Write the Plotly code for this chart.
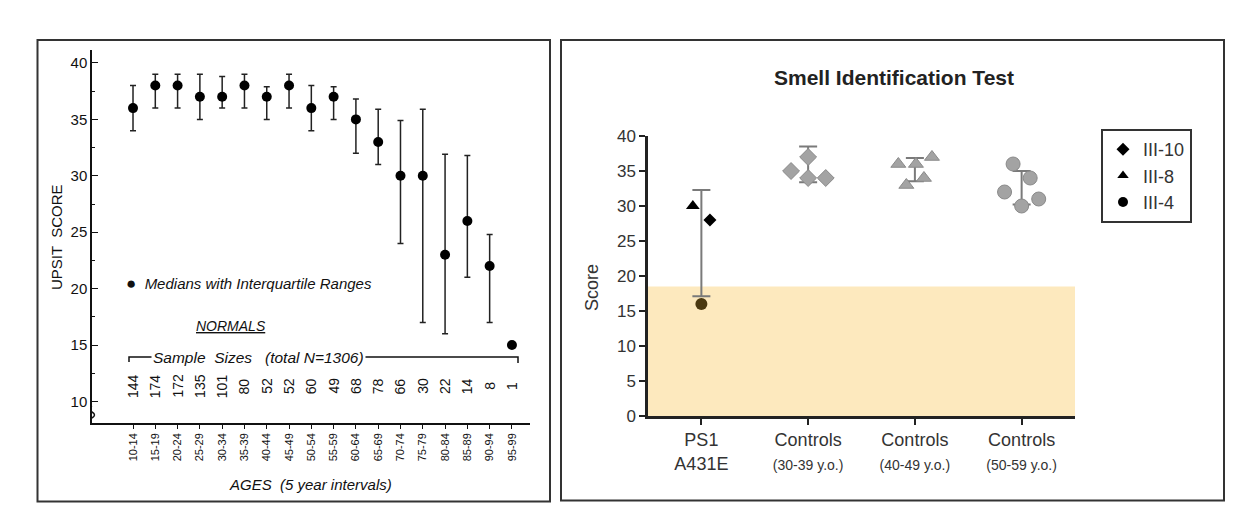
import plotly.graph_objects as go

W, H = 1241, 525
def px(x): return x / W
def py(y): return 1 - y / H

# ---------------- Left panel data (UPSIT norms) ----------------
age_groups = ["10-14", "15-19", "20-24", "25-29", "30-34", "35-39", "40-44", "45-49",
              "50-54", "55-59", "60-64", "65-69", "70-74", "75-79", "80-84", "85-89",
              "90-94", "95-99"]
medians = [36, 38, 38, 37, 37, 38, 37, 38, 36, 37, 35, 33, 30, 30, 23, 26, 22, 15]
q_low = [34, 36, 36, 35, 36, 36, 35, 36, 34, 35, 32, 31, 24, 17, 16, 21, 17, None]
q_high = [38, 39, 39, 39, 38.8, 39, 37.9, 39, 38, 37.9, 36.8, 35.9, 34.9, 35.9, 31.9, 31.8, 24.8, None]
sample_sizes = ["144", "174", "172", "135", "101", "80", "52", "52", "60", "49", "68",
                "78", "66", "30", "22", "14", "8", "1"]

# ---------------- Right panel data (Smell Identification Test) ----------------
groups = ["PS1<br>A431E",
          "Controls<br><span style='font-size:14px'>(30-39 y.o.)</span>",
          "Controls<br><span style='font-size:14px'>(40-49 y.o.)</span>",
          "Controls<br><span style='font-size:14px'>(50-59 y.o.)</span>"]
group_mean = [24.7, 35.95, 35.2, 32.6]
group_sd = [7.6, 2.55, 1.65, 2.4]

ps1_names = ["III-10", "III-8", "III-4"]
ps1_x = [0.08, -0.08, 0.0]
ps1_y = [28, 30, 16]

c30_x = [0.84, 1.0, 1.0, 1.165]
c30_y = [35, 37, 34, 34]
c40_x = [1.845, 2.01, 2.16, 1.92, 2.085]
c40_y = [36, 36, 37, 33, 34]
c50_x = [2.92, 3.08, 2.84, 3.0, 3.16]
c50_y = [36, 34, 32, 30, 31]

fig = go.Figure()

# ---------- left panel traces ----------
xi = list(range(len(age_groups)))
err_plus = [None if h is None else h - m for h, m in zip(q_high, medians)]
err_minus = [None if l is None else m - l for l, m in zip(q_low, medians)]
fig.add_trace(go.Scatter(
    x=xi, y=medians, mode="markers", xaxis="x", yaxis="y", showlegend=False,
    marker=dict(color="black", size=10),
    error_y=dict(type="data", symmetric=False, array=err_plus, arrayminus=err_minus,
                 color="#222", thickness=1.5, width=3),
))

# ---------- right panel traces ----------
fig.add_trace(go.Scatter(
    x=[0, 1, 2, 3], y=group_mean, mode="markers", xaxis="x2", yaxis="y2", showlegend=False,
    marker=dict(size=1, color="rgba(0,0,0,0)"),
    error_y=dict(type="data", array=group_sd, color="#7a7a7a", thickness=2, width=9),
))
gray = "#a3a3a3"
fig.add_trace(go.Scatter(x=c30_x, y=c30_y, mode="markers", xaxis="x2", yaxis="y2", showlegend=False,
                         marker=dict(symbol="diamond", size=13, color=gray, line=dict(color="#8a8a8a", width=1))))
fig.add_trace(go.Scatter(x=c40_x, y=c40_y, mode="markers", xaxis="x2", yaxis="y2", showlegend=False,
                         marker=dict(symbol="triangle-up", size=13, color=gray, line=dict(color="#8a8a8a", width=1))))
fig.add_trace(go.Scatter(x=c50_x, y=c50_y, mode="markers", xaxis="x2", yaxis="y2", showlegend=False,
                         marker=dict(symbol="circle", size=14, color=gray, line=dict(color="#8a8a8a", width=1))))
ps1_symbols = ["diamond", "triangle-up", "circle"]
ps1_sizes = [10, 12, 12]
ps1_colors = ["black", "black", "#4a3810"]
for n, xv, yv, s, sz, c in zip(ps1_names, ps1_x, ps1_y, ps1_symbols, ps1_sizes, ps1_colors):
    fig.add_trace(go.Scatter(x=[xv], y=[yv], mode="markers", xaxis="x2", yaxis="y2", name=n,
                             showlegend=False, marker=dict(symbol=s, size=sz, color=c)))
# legend entries (black symbols, as in the key)
for n, s in zip(ps1_names, ps1_symbols):
    fig.add_trace(go.Scatter(x=[None], y=[None], mode="markers", xaxis="x2", yaxis="y2", name=n,
                             marker=dict(symbol=s, size=10, color="black")))

# ---------- axes ----------
L_x0, L_x1 = 92, 530
L_y0, L_y1 = 50, 423
L_xr = [-1.84, 17.81]
L_yr = [8.09, 41.15]

def lx(p):  # pixel -> left data x
    return L_xr[0] + (p - L_x0) / (L_x1 - L_x0) * (L_xr[1] - L_xr[0])
def ly(p):  # pixel -> left data y
    return L_yr[1] - (p - L_y0) / (L_y1 - L_y0) * (L_yr[1] - L_yr[0])

lfont = dict(family="Liberation Sans, Arial", color="#111")
rfont = dict(family="Liberation Sans, Arial", color="#333")

fig.update_layout(
    width=W, height=H, margin=dict(l=0, r=0, t=0, b=0, autoexpand=False), autosize=False,
    paper_bgcolor="white", plot_bgcolor="rgba(0,0,0,0)",
    xaxis=dict(domain=[px(L_x0), px(L_x1)], range=L_xr, tickmode="array", tickvals=xi,
               ticktext=age_groups, tickangle=-90, showline=True, linecolor="#111", linewidth=1.5,
               ticks="outside", ticklen=4, tickcolor="#111", showgrid=False, zeroline=False,
               tickfont=dict(size=11, **lfont), anchor="y", automargin=False),
    yaxis=dict(domain=[py(L_y1), py(L_y0)], range=L_yr, tickvals=[10, 15, 20, 25, 30, 35, 40],
               showline=True, linecolor="#111", linewidth=1.5, ticks="inside", ticklen=6,
               tickcolor="#111", showgrid=False, zeroline=False,
               minor=dict(tickvals=[12.5, 17.5, 22.5, 27.5, 32.5, 37.5], ticks="inside", ticklen=3, tickcolor="#111"),
               tickfont=dict(size=15, **lfont), anchor="x", automargin=False),
    xaxis2=dict(domain=[px(648), px(1075)], range=[-0.5, 3.5], tickmode="array", tickvals=[0, 1, 2, 3],
                ticktext=groups, showline=True, linecolor="#222", linewidth=2.5, ticks="outside",
                ticklen=6, tickwidth=2, tickcolor="#222", showgrid=False, zeroline=False,
                tickfont=dict(size=18, **rfont), anchor="y2", automargin=False),
    yaxis2=dict(domain=[py(416), py(136)], range=[0, 40], dtick=5, showline=True, linecolor="#222",
                linewidth=2.5, ticks="outside", ticklen=6, tickwidth=2, tickcolor="#222",
                showgrid=False, zeroline=False, tickfont=dict(size=17, **rfont), anchor="x2",
                automargin=False),
    legend=dict(x=px(1101), y=py(129), xanchor="left", yanchor="top", bordercolor="#333",
                borderwidth=2, bgcolor="white", font=dict(size=18, **rfont), itemwidth=30,
                tracegroupgap=0),
)

shapes = [
    # panel borders
    dict(type="rect", xref="paper", yref="paper", x0=px(37.5), x1=px(550), y0=py(501.5), y1=py(40),
         line=dict(color="#333", width=2)),
    dict(type="rect", xref="paper", yref="paper", x0=px(561), x1=px(1224), y0=py(500.5), y1=py(40),
         line=dict(color="#333", width=2)),
    # yellow band
    dict(type="rect", xref="x2", yref="y2", x0=-0.5, x1=3.5, y0=0, y1=18.5,
         fillcolor="rgb(253,233,190)", line=dict(width=0), layer="below"),
    # sample size bracket
    dict(type="path", xref="x", yref="y",
         path=f"M {lx(129)},{ly(362)} L {lx(129)},{ly(357)} L {lx(518)},{ly(357)} L {lx(518)},{ly(363)}",
         line=dict(color="#111", width=1.5)),
    # axis break: mask + squiggle
    dict(type="rect", xref="x", yref="y", x0=lx(89), x1=lx(95), y0=ly(418), y1=ly(406),
         fillcolor="white", line=dict(width=0)),
    dict(type="path", xref="x", yref="y",
         path=f"M {lx(92)},{ly(406)} Q {lx(86)},{ly(409)} {lx(92)},{ly(412)} Q {lx(97)},{ly(415)} {lx(92)},{ly(418)}",
         line=dict(color="#111", width=1.5)),
]
fig.update_layout(shapes=shapes)

C = dict(xanchor="center", yanchor="middle", showarrow=False)
ann = []
# left panel annotations
for i, s in enumerate(sample_sizes):
    ann.append(dict(x=i, y=ly(386), xref="x", yref="y", text=s, textangle=-90,
                    font=dict(size=14, **lfont), **C))
ann.append(dict(x=lx(258), y=ly(357), xref="x", yref="y", text="<i>Sample  Sizes   (total N=1306)</i>",
                bgcolor="white", font=dict(size=15.5, **lfont), **C))
ann.append(dict(x=lx(124), y=ly(283), xref="x", yref="y", xanchor="left", yanchor="middle", showarrow=False,
                text="<span style='font-size:17px'>●</span>  <i>Medians with Interquartile Ranges</i>",
                font=dict(size=15, **lfont)))
ann.append(dict(x=lx(231), y=ly(326), xref="x", yref="y", text="<i><u>NORMALS</u></i>",
                font=dict(size=14, **lfont), **C))
ann.append(dict(x=px(310), y=py(484), xref="paper", yref="paper", text="<i>AGES  (5 year intervals)</i>",
                font=dict(size=15, **lfont), **C))
ann.append(dict(x=px(57), y=py(237), xref="paper", yref="paper", text="UPSIT  SCORE", textangle=-90,
                font=dict(size=15, **lfont), **C))
# right panel annotations
ann.append(dict(x=px(894), y=py(77), xref="paper", yref="paper", text="<b>Smell Identification Test</b>",
                font=dict(size=21, family="Liberation Sans, Arial", color="#222"), **C))
ann.append(dict(x=px(592), y=py(288), xref="paper", yref="paper", text="Score", textangle=-90,
                font=dict(size=18, **rfont), **C))
fig.update_layout(annotations=ann)

fig.write_html("out.html", config={"displayModeBar": False},
               post_script="document.body.style.margin='0';document.body.style.overflow='hidden';")
